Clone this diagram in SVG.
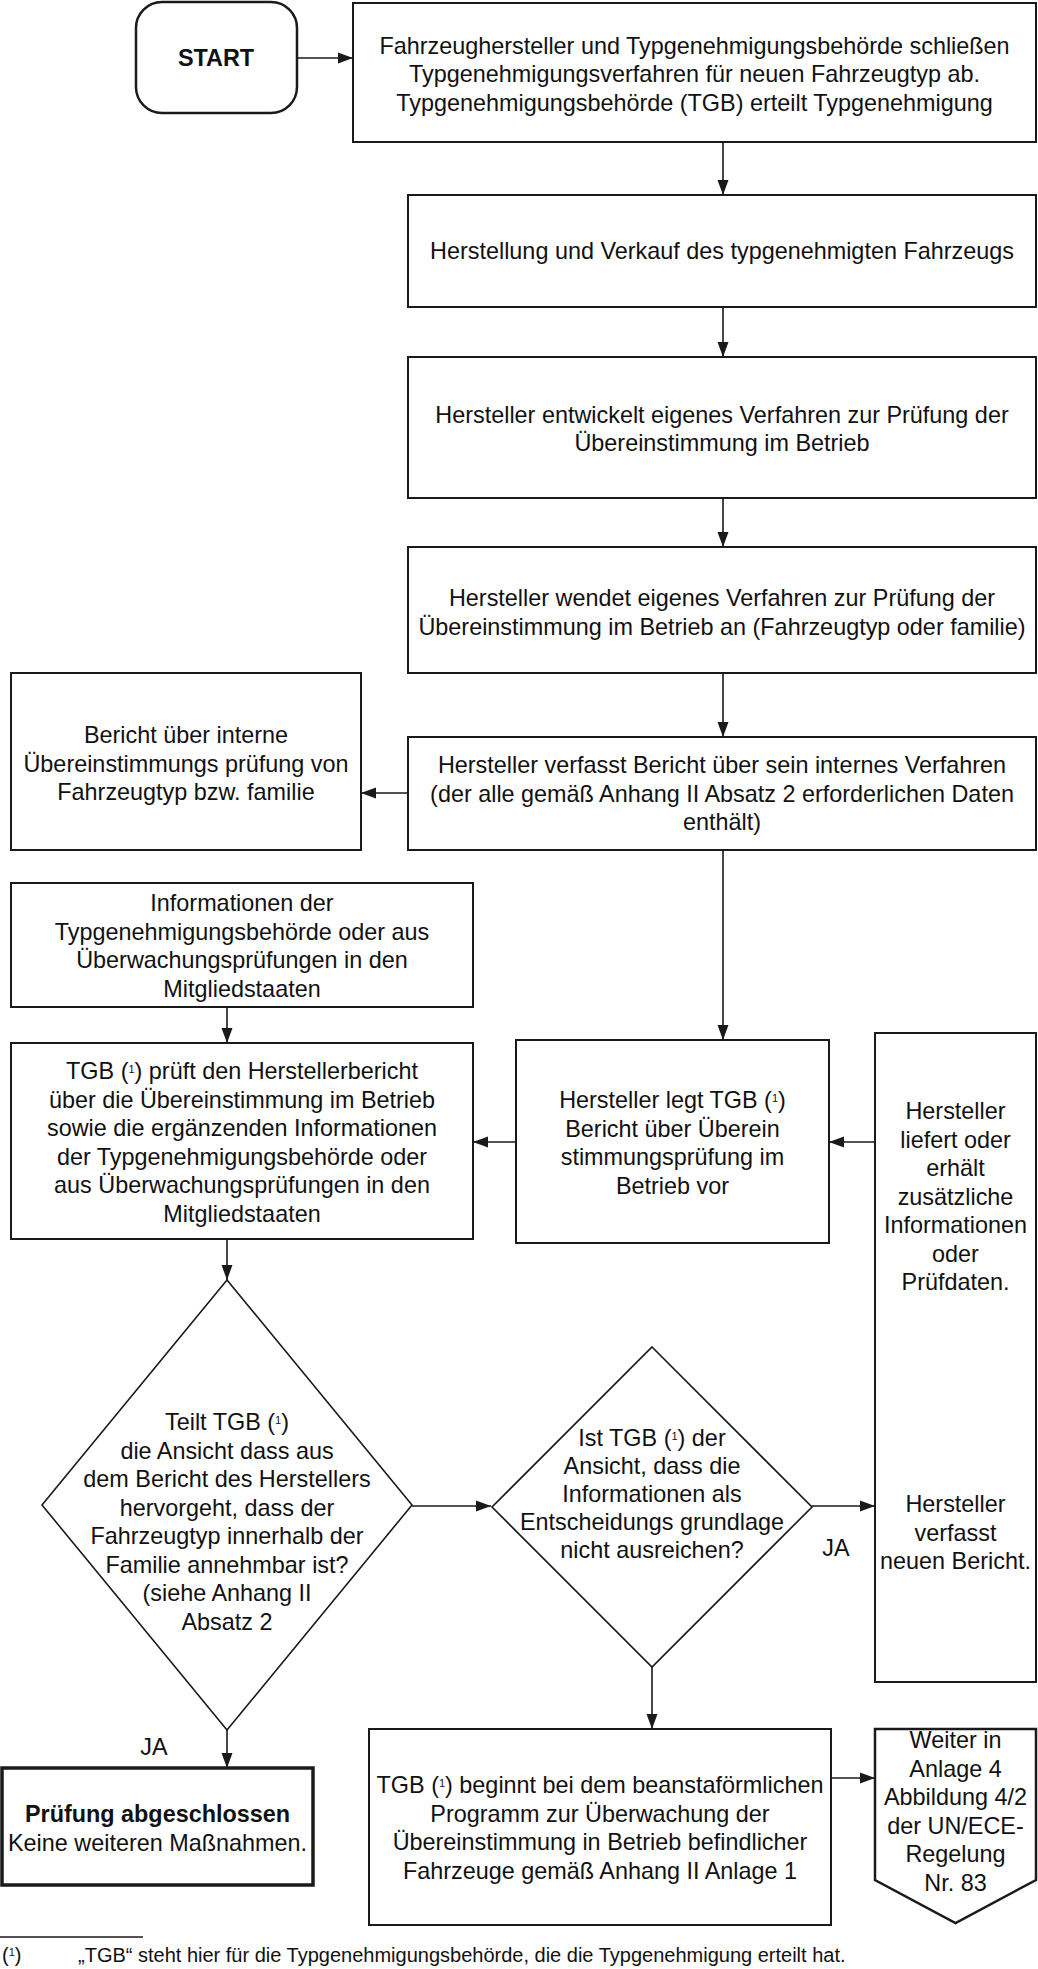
<svg xmlns="http://www.w3.org/2000/svg" width="1038" height="1969" viewBox="0 0 1038 1969">
<style>
  .bx { fill: #ffffff; stroke: #1a1a1a; stroke-width: 2; }
  .t { font-family: "Liberation Sans", Arial, sans-serif; font-size: 23.4px; fill: #111111; text-anchor: middle; }
  .b { font-weight: bold; }
  .sup { font-size: 11px; baseline-shift: super; }
  .fn { font-family: "Liberation Sans", Arial, sans-serif; font-size: 20px; fill: #111111; }
  .ln { stroke: #1a1a1a; stroke-width: 1.6; fill: none; marker-end: url(#ah); }
</style>
<defs>
  <marker id="ah" markerUnits="userSpaceOnUse" markerWidth="16" markerHeight="12" refX="15" refY="6" orient="auto">
    <path d="M0,0.5 L15,6 L0,11.5 Z" fill="#1a1a1a"/>
  </marker>
</defs>
<rect width="1038" height="1969" fill="#ffffff"/>

<g id="connectors">
  <line class="ln" x1="297" y1="58" x2="353" y2="58"/>
  <line class="ln" x1="723" y1="142" x2="723" y2="195"/>
  <line class="ln" x1="723" y1="307" x2="723" y2="357"/>
  <line class="ln" x1="723" y1="498" x2="723" y2="547"/>
  <line class="ln" x1="723" y1="673" x2="723" y2="737"/>
  <line class="ln" x1="408" y1="793" x2="361" y2="793"/>
  <line class="ln" x1="723" y1="850" x2="723" y2="1040"/>
  <line class="ln" x1="227" y1="1007" x2="227" y2="1043"/>
  <line class="ln" x1="516" y1="1142" x2="473" y2="1142"/>
  <line class="ln" x1="875" y1="1142" x2="829" y2="1142"/>
  <line class="ln" x1="227" y1="1239" x2="227" y2="1280"/>
  <line class="ln" x1="412" y1="1506" x2="491" y2="1506"/>
  <line class="ln" x1="812" y1="1506" x2="875" y2="1506"/>
  <line class="ln" x1="227" y1="1730" x2="227" y2="1768"/>
  <line class="ln" x1="652" y1="1667" x2="652" y2="1729"/>
  <line class="ln" x1="831" y1="1778" x2="875" y2="1778"/>
</g>

<g id="start">
  <rect x="136" y="2" width="161" height="111" rx="26" ry="26" fill="#ffffff" stroke="#1a1a1a" stroke-width="2.5"/>
  <text class="t b" x="216" y="66" font-size="23">START</text>
</g>

<g id="n1">
  <rect class="bx" x="353" y="3" width="683" height="139"/>
  <text class="t" x="694.5" y="53.5">Fahrzeughersteller und Typgenehmigungsbehörde schließen</text>
  <text class="t" x="694.5" y="82">Typgenehmigungsverfahren für neuen Fahrzeugtyp ab.</text>
  <text class="t" x="694.5" y="110.5">Typgenehmigungsbehörde (TGB) erteilt Typgenehmigung</text>
</g>

<g id="n2">
  <rect class="bx" x="408" y="195" width="628" height="112"/>
  <text class="t" x="722" y="259">Herstellung und Verkauf des typgenehmigten Fahrzeugs</text>
</g>

<g id="n3">
  <rect class="bx" x="408" y="357" width="628" height="141"/>
  <text class="t" x="722" y="423">Hersteller entwickelt eigenes Verfahren zur Prüfung der</text>
  <text class="t" x="722" y="451">Übereinstimmung im Betrieb</text>
</g>

<g id="n4">
  <rect class="bx" x="408" y="547" width="628" height="126"/>
  <text class="t" x="722" y="606">Hersteller wendet eigenes Verfahren zur Prüfung der</text>
  <text class="t" x="722" y="635">Übereinstimmung im Betrieb an (Fahrzeugtyp oder familie)</text>
</g>

<g id="n5">
  <rect class="bx" x="408" y="737" width="628" height="113"/>
  <text class="t" x="722" y="773">Hersteller verfasst Bericht über sein internes Verfahren</text>
  <text class="t" x="722" y="801.5">(der alle gemäß Anhang II Absatz 2 erforderlichen Daten</text>
  <text class="t" x="722" y="830">enthält)</text>
</g>

<g id="n6">
  <rect class="bx" x="11" y="673" width="350" height="177"/>
  <text class="t" x="186" y="743">Bericht über interne</text>
  <text class="t" x="186" y="771.5">Übereinstimmungs prüfung von</text>
  <text class="t" x="186" y="800">Fahrzeugtyp bzw. familie</text>
</g>

<g id="n7">
  <rect class="bx" x="11" y="883" width="462" height="124"/>
  <text class="t" x="242" y="911">Informationen der</text>
  <text class="t" x="242" y="939.5">Typgenehmigungsbehörde oder aus</text>
  <text class="t" x="242" y="968">Überwachungsprüfungen in den</text>
  <text class="t" x="242" y="996.5">Mitgliedstaaten</text>
</g>

<g id="n8">
  <rect class="bx" x="11" y="1043" width="462" height="196"/>
  <text class="t" x="242" y="1079">TGB (<tspan class="sup">1</tspan>) prüft den Herstellerbericht</text>
  <text class="t" x="242" y="1107.5">über die Übereinstimmung im Betrieb</text>
  <text class="t" x="242" y="1136">sowie die ergänzenden Informationen</text>
  <text class="t" x="242" y="1164.5">der Typgenehmigungsbehörde oder</text>
  <text class="t" x="242" y="1193">aus Überwachungsprüfungen in den</text>
  <text class="t" x="242" y="1221.5">Mitgliedstaaten</text>
</g>

<g id="n9">
  <rect class="bx" x="516" y="1040" width="313" height="203"/>
  <text class="t" x="672.5" y="1108">Hersteller legt TGB (<tspan class="sup">1</tspan>)</text>
  <text class="t" x="672.5" y="1136.5">Bericht über Überein</text>
  <text class="t" x="672.5" y="1165">stimmungsprüfung im</text>
  <text class="t" x="672.5" y="1193.5">Betrieb vor</text>
</g>

<g id="n10">
  <rect class="bx" x="875" y="1033" width="161" height="649"/>
  <text class="t" x="955.5" y="1119">Hersteller</text>
  <text class="t" x="955.5" y="1147.5">liefert oder</text>
  <text class="t" x="955.5" y="1176">erhält</text>
  <text class="t" x="955.5" y="1204.5">zusätzliche</text>
  <text class="t" x="955.5" y="1233">Informationen</text>
  <text class="t" x="955.5" y="1261.5">oder</text>
  <text class="t" x="955.5" y="1290">Prüfdaten.</text>
  <text class="t" x="955.5" y="1512">Hersteller</text>
  <text class="t" x="955.5" y="1540.5">verfasst</text>
  <text class="t" x="955.5" y="1569">neuen Bericht.</text>
</g>

<g id="d1">
  <polygon points="227,1280 412,1505 227,1730 42,1505" fill="#ffffff" stroke="#1a1a1a" stroke-width="1.6"/>
  <text class="t" x="227" y="1430">Teilt TGB (<tspan class="sup">1</tspan>)</text>
  <text class="t" x="227" y="1458.5">die Ansicht dass aus</text>
  <text class="t" x="227" y="1487">dem Bericht des Herstellers</text>
  <text class="t" x="227" y="1515.5">hervorgeht, dass der</text>
  <text class="t" x="227" y="1544">Fahrzeugtyp innerhalb der</text>
  <text class="t" x="227" y="1572.5">Familie annehmbar ist?</text>
  <text class="t" x="227" y="1601">(siehe Anhang II</text>
  <text class="t" x="227" y="1629.5">Absatz 2</text>
</g>

<g id="d2">
  <polygon points="652,1347 812,1507 652,1667 492,1507" fill="#ffffff" stroke="#1a1a1a" stroke-width="1.6"/>
  <text class="t" x="652" y="1446">Ist TGB (<tspan class="sup">1</tspan>) der</text>
  <text class="t" x="652" y="1474">Ansicht, dass die</text>
  <text class="t" x="652" y="1502">Informationen als</text>
  <text class="t" x="652" y="1530">Entscheidungs grundlage</text>
  <text class="t" x="652" y="1558">nicht ausreichen?</text>
</g>

<g id="lbl-ja1">
  <text class="t" x="836" y="1556">JA</text>
</g>
<g id="lbl-ja2">
  <text class="t" x="154" y="1755">JA</text>
</g>

<g id="n11">
  <rect x="2" y="1768" width="311" height="117" fill="#ffffff" stroke="#1a1a1a" stroke-width="3.5"/>
  <text class="t b" x="157.5" y="1822">Prüfung abgeschlossen</text>
  <text class="t" x="157.5" y="1851">Keine weiteren Maßnahmen.</text>
</g>

<g id="n12">
  <rect class="bx" x="369" y="1729" width="462" height="196"/>
  <text class="t" x="600" y="1793">TGB (<tspan class="sup">1</tspan>) beginnt bei dem beanstaförmlichen</text>
  <text class="t" x="600" y="1821.5">Programm zur Überwachung der</text>
  <text class="t" x="600" y="1850">Übereinstimmung in Betrieb befindlicher</text>
  <text class="t" x="600" y="1878.5">Fahrzeuge gemäß Anhang II Anlage 1</text>
</g>

<g id="n13">
  <polygon points="875,1729 1036,1729 1036,1880 955.5,1923 875,1880" fill="#ffffff" stroke="#1a1a1a" stroke-width="2.5"/>
  <text class="t" x="955.5" y="1748">Weiter in</text>
  <text class="t" x="955.5" y="1776.5">Anlage 4</text>
  <text class="t" x="955.5" y="1805">Abbildung 4/2</text>
  <text class="t" x="955.5" y="1833.5">der UN/ECE-</text>
  <text class="t" x="955.5" y="1862">Regelung</text>
  <text class="t" x="955.5" y="1890.5">Nr. 83</text>
</g>

<g id="footnote">
  <line x1="0" y1="1937" x2="143" y2="1937" stroke="#1a1a1a" stroke-width="1.5"/>
  <text class="fn" x="2" y="1962">(<tspan class="sup">1</tspan>)</text>
  <text class="fn" x="78" y="1962">„TGB“ steht hier für die Typgenehmigungsbehörde, die die Typgenehmigung erteilt hat.</text>
</g>
</svg>
